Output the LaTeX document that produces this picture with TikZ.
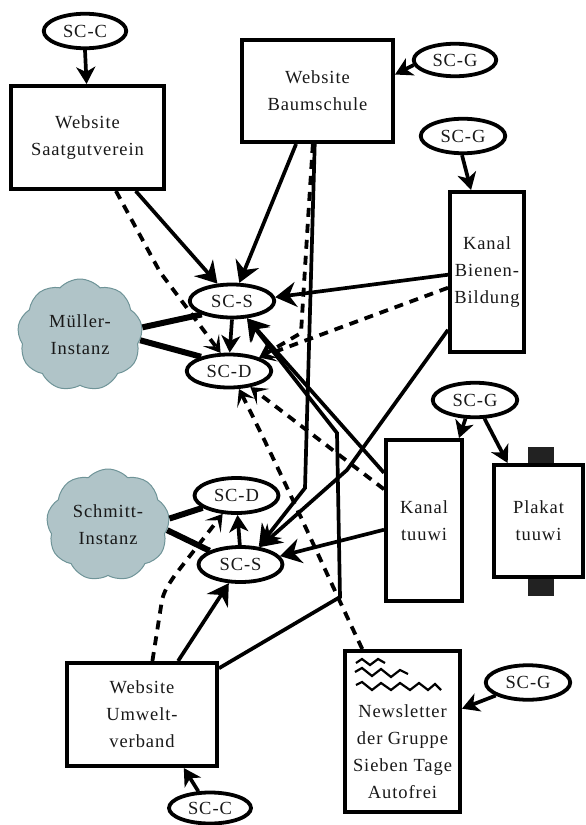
\documentclass[tikz,border=0pt]{standalone}
\usepackage{fontspec}
\setmainfont[LetterSpace=5]{Liberation Serif}
\usetikzlibrary{arrows.meta,shapes.geometric,shapes.symbols}
\definecolor{cloudfill}{HTML}{B0C4C8}
\definecolor{cloudline}{HTML}{6F9498}
\definecolor{tab}{HTML}{222222}
\tikzset{
  txt/.style={font=\fontsize{18.5pt}{27pt}\selectfont,align=center,text=black!90},
  box/.style={txt,draw,line width=4pt,rectangle,inner sep=0pt,fill=white},
  oval/.style={txt,draw,line width=3.8pt,ellipse,inner sep=0pt,fill=white},
  wolke/.style={txt,draw=cloudline,line width=1pt,fill=cloudfill,cloud,cloud puffs=9,cloud puff arc=95,aspect=1.1,inner sep=0pt},
  link/.style={line width=3.7pt,line join=miter,-{Stealth[length=21pt,width=25pt,inset=7pt]}},
  dlink/.style={line width=3.8pt,dash pattern=on 9pt off 7pt,-{Stealth[length=16pt,width=20pt,inset=8pt]}},
  short link/.style={line width=3.7pt,-{Stealth[length=17pt,width=19pt,inset=5pt]}},
  thick link/.style={line width=6pt},
  squiggle/.style={line width=2.2pt,line join=miter}
}
\begin{document}
\begin{tikzpicture}[x=1pt,y=-1pt]
\useasboundingbox (0,0) rectangle (586,825);
% boxes
\node[box,minimum width=153pt,minimum height=103pt] (saat) at (87.5,137.5) {Website\\Saatgutverein};
\node[box,minimum width=151pt,minimum height=102pt] (baum) at (317.5,91) {Website\\Baumschule};
\node[box,minimum width=74pt,minimum height=160pt] (bien) at (487,272) {Kanal\\Bienen-\\Bildung};
\node[box,minimum width=76pt,minimum height=161pt] (tuuw) at (424,520.5) {Kanal\\tuuwi};
\fill[tab] (528,447) rectangle (554,466);
\fill[tab] (528,576) rectangle (554,596);
\node[box,minimum width=89pt,minimum height=112pt] (plak) at (538.5,521) {Plakat\\tuuwi};
\node[box,minimum width=150pt,minimum height=103pt] (umwe) at (142,714.5) {Website\\Umwelt-\\verband};
\node[box,minimum width=115pt,minimum height=161pt] (news) at (402.5,731.5) {};
\node[txt] (newstext) at (402.5,752) {Newsletter\\der Gruppe\\Sieben Tage\\Autofrei};
\draw[squiggle] (356,663) -- (362,659) -- (370,665) -- (378,659) -- (385,663);
\draw[squiggle] (355,672) -- (362,668) -- (372,676) -- (381,669) -- (391,677) -- (400,670) -- (408,674);
\draw[squiggle] (356,685) -- (362,682) -- (372,690) -- (381,683) -- (391,690) -- (400,683) -- (410,690) -- (419,683) -- (428,690) -- (435,684) -- (441,690);
% clouds
\node[wolke,minimum width=125pt,minimum height=112pt] (muel) at (80,335) {Müller-\\Instanz};
\node[wolke,minimum width=123pt,minimum height=112pt] (schm) at (108,525) {Schmitt-\\Instanz};
% ovals
\node[oval,minimum width=82.5pt,minimum height=34.5pt] (cTop) at (85,31) {SC-C};
\node[oval,minimum width=82.5pt,minimum height=32.5pt] (gA) at (455,60) {SC-G};
\node[oval,minimum width=84.5pt,minimum height=34.5pt] (gB) at (463,136) {SC-G};
\node[oval,minimum width=84.5pt,minimum height=34.5pt] (gC) at (475,400) {SC-G};
\node[oval,minimum width=84.5pt,minimum height=34.5pt] (gD) at (528,682.5) {SC-G};
\node[oval,minimum width=84.5pt,minimum height=33pt] (sA) at (232,301) {SC-S};
\node[oval,minimum width=84.5pt,minimum height=33pt] (dA) at (229,371) {SC-D};
\node[oval,minimum width=84pt,minimum height=35pt] (dB) at (236.5,495.5) {SC-D};
\node[oval,minimum width=84pt,minimum height=35pt] (sB) at (240.5,564.5) {SC-S};
\node[oval,minimum width=82pt,minimum height=31pt] (cBot) at (210,808) {SC-C};
% way points
\coordinate (wpBaumA) at (305,488);
\coordinate (wpBaumD) at (301,333);
\coordinate (wpBaumDb) at (308,220);
\coordinate (wpBienA) at (347,470);
\coordinate (wpUmwA) at (340,597);
\coordinate (wpUmwB) at (337,433);
\coordinate (wpNewsA) at (320,560);
\coordinate (wpNewsB) at (285,480);
\coordinate (wpUmwD) at (162,600);
\coordinate (wpUmwE) at (165,590);
\coordinate (wpUmwF) at (175,575);
\coordinate (wpSaatA) at (160,272);
% thick cloud links
\draw[thick link] (muel.7) -- (sA.204);
\draw[thick link] (muel.-5) -- (dA.153);
\draw[thick link] (schm.6) -- (dB.200);
\draw[thick link] (schm.-5) -- (sB.156);
% connectors
\draw[short link] (cTop.-90) -- (saat.91);
\draw[short link] (gA.187) -- (baum.12);
\draw[short link] (gB.-93) -- (bien.101);
\draw[short link] (gC.-117) -- (tuuw.67);
\draw[short link] (gC.-63) -- (plak.118.5);
\draw[short link] (gD.202) -- (news.21);
\draw[short link] (cBot.125) -- (umwe.-52);
\draw[link] (saat.-48) -- (sA.130);
\draw[dlink] (saat.-62) -- (wpSaatA) -- (dA.115);
\draw[link] (baum.-112) -- (sA.68);
\draw[link] (baum.-93) -- (wpBaumA) -- (sB.44);
\draw[dlink] (baum.-95) -- (wpBaumDb) -- (wpBaumD) -- (dA.24);
\draw[link] (bien.184.4) -- (sA.5);
\draw[dlink] (bien.202.3) -- (dA.24);
\draw[link] (bien.236.1) -- (wpBienA) -- (sB.42);
\draw[link] (tuuw.130) -- (sA.-49);
\draw[dlink] (tuuw.142.7) -- (dA.-37);
\draw[link] (tuuw.193.4) -- (sB.12);
\draw[dlink] (news.116.1) .. controls (wpNewsA) and (wpNewsB) .. (dA.-61);
\draw[link] (umwe.31.7) -- (wpUmwA) -- (wpUmwB) -- (sA.-49);
\draw[link] (umwe.56) -- (sB.-122);
\draw[dlink] (umwe.79.4) -- (wpUmwD) .. controls (wpUmwE) .. (wpUmwF) -- (dB.-127);
\draw[short link] (sA.-90) -- (dA.88);
\draw[short link] (sB.92) -- (dB.-87);
\end{tikzpicture}
\end{document}
